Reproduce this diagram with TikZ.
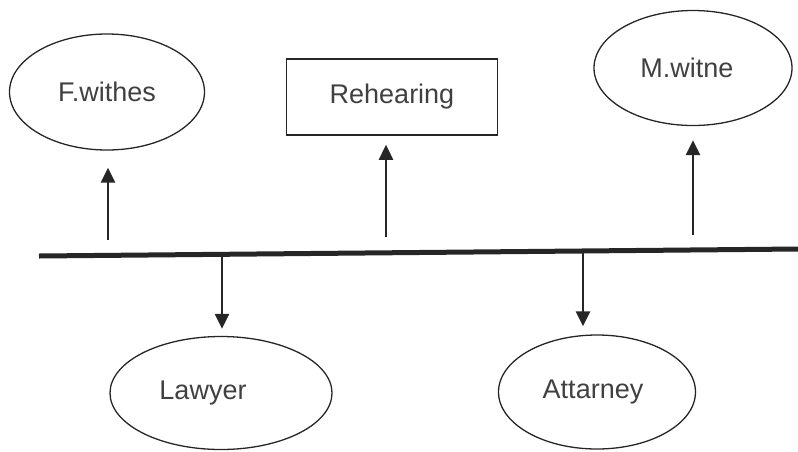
\documentclass[tikz,border=0pt]{standalone}
\usepackage{fontspec}
\setmainfont{Liberation Sans}
\usetikzlibrary{shapes.geometric,arrows.meta}

\begin{document}
\begin{tikzpicture}[x=1pt,y=-1pt,>={Triangle[length=15pt,width=14pt]},
  oval/.style={ellipse,draw=black!85,line width=1.3pt,inner sep=0pt},
  box/.style={rectangle,draw=black!85,line width=1.5pt,inner sep=0pt},
  arr/.style={->,draw=black!85,fill=black!85,line width=2.4pt},
  every node/.style={font=\fontsize{27}{32}\selectfont,text=black!75}]
 \useasboundingbox (0,0) rectangle (798,451);
 % upper row
 \node[oval,minimum width=195pt,minimum height=116pt] (fw) at (107,92) {F.withes};
 \node[box,minimum width=211pt,minimum height=76pt] (rh) at (392,97) {Rehearing};
 \node[oval,minimum width=198pt,minimum height=115pt] (mw) at (693,68) {M.witne\hspace*{12pt}};
 % lower row
 \node[oval,minimum width=222pt,minimum height=113pt] (lw) at (221,393) {Lawyer\hspace*{36pt}};
 \node[oval,minimum width=197pt,minimum height=114pt] (at) at (597,392) {Attarney\hspace*{8pt}};
 % main line
 \coordinate (L) at (39,256);
 \coordinate (R) at (798,249);
 \draw[line width=5pt,black!85] (L)--(R);
 \coordinate (t1) at (108,240);
 \coordinate (t2) at (386,237);
 \coordinate (t3) at (693,235);
 \coordinate (d1) at (222,254);
 \coordinate (d2) at (583,251);
 \draw[arr,shorten >=17pt] (t1)--(t1 |- fw.south);
 \draw[arr,shorten >=9pt] (t2)--(t2 |- rh.south);
 \draw[arr,shorten >=14pt] (t3)--(t3 |- mw.south);
 \draw[arr,shorten >=7pt] (d1)--(d1 |- lw.north);
 \draw[arr,shorten >=8pt] (d2)--(d2 |- at.north);
\end{tikzpicture}
\end{document}
